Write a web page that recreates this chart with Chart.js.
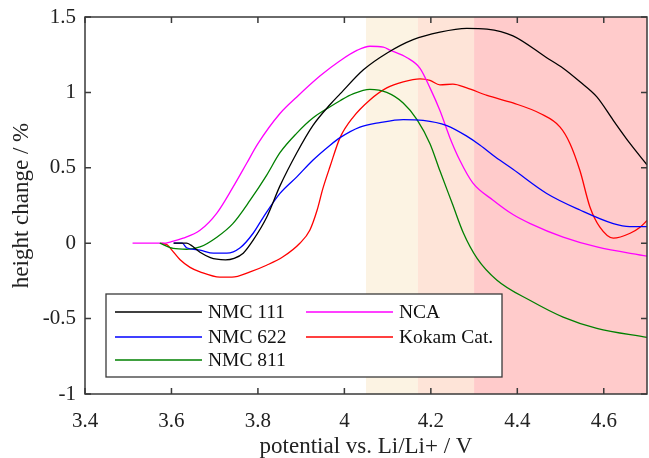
<!DOCTYPE html>
<html><head><meta charset="utf-8">
<script src="https://cdn.jsdelivr.net/npm/chart.js@4.4.0/dist/chart.umd.min.js"></script>
<style>html,body{margin:0;padding:0;background:#fff;}</style>
</head><body>
<canvas id="c" width="649" height="458"></canvas>
<script>
// ---- data ----
const seriesNames = ['NMC 111', 'NMC 622', 'NMC 811', 'NCA', 'Kokam Cat.'];

const nmc111X = [3.605,3.635,3.645,3.666,3.69,3.705,3.725,3.745,3.766,3.789,3.82,3.851,3.89,3.927,3.967,3.99,4.044,4.098,4.159,4.221,4.283,4.33,4.39,4.468,4.506,4.545,4.584,4.622,4.661,4.70];
const nmc111Y = [0,0,-0.013,-0.06,-0.095,-0.106,-0.11,-0.1,-0.066,0.02,0.17,0.38,0.60,0.78,0.92,0.99,1.15,1.26,1.35,1.40,1.425,1.42,1.375,1.23,1.16,1.07,0.97,0.815,0.66,0.52];

const nmc622X = [3.605,3.625,3.635,3.666,3.697,3.728,3.759,3.789,3.812,3.851,3.89,3.927,3.967,3.99,4.036,4.082,4.136,4.182,4.237,4.283,4.314,4.35,4.39,4.468,4.545,4.622,4.66,4.70];
const nmc622Y = [0,0,-0.03,-0.046,-0.066,-0.066,-0.03,0.066,0.17,0.33,0.44,0.55,0.65,0.70,0.77,0.80,0.82,0.815,0.78,0.71,0.65,0.57,0.49,0.33,0.22,0.13,0.11,0.11];

const nmc811X = [3.573,3.604,3.635,3.666,3.705,3.742,3.782,3.82,3.851,3.89,3.927,3.967,3.99,4.02,4.059,4.098,4.136,4.168,4.198,4.221,4.25,4.275,4.307,4.353,4.43,4.506,4.584,4.70];
const nmc811Y = [0,-0.035,-0.04,-0.025,0.04,0.13,0.285,0.45,0.60,0.73,0.83,0.905,0.945,0.99,1.02,1.0,0.93,0.82,0.66,0.48,0.26,0.07,-0.1,-0.245,-0.38,-0.49,-0.565,-0.625];

const ncaX = [3.51,3.58,3.60,3.627,3.666,3.705,3.742,3.774,3.80,3.851,3.89,3.944,3.99,4.03,4.059,4.09,4.106,4.145,4.175,4.198,4.221,4.244,4.267,4.297,4.344,4.39,4.43,4.506,4.584,4.70];
const ncaY = [0,0,0.01,0.033,0.086,0.20,0.37,0.53,0.66,0.86,0.97,1.11,1.21,1.28,1.306,1.30,1.28,1.23,1.16,1.03,0.88,0.70,0.55,0.40,0.285,0.19,0.13,0.04,-0.025,-0.086];

const kokamX = [3.575,3.59,3.601,3.62,3.643,3.666,3.712,3.74,3.782,3.82,3.858,3.897,3.92,3.937,3.95,3.967,3.99,4.02,4.059,4.098,4.136,4.175,4.198,4.221,4.251,4.283,4.33,4.39,4.453,4.499,4.522,4.545,4.568,4.591,4.622,4.661,4.684,4.70];
const kokamY = [0,-0.01,-0.046,-0.11,-0.16,-0.19,-0.225,-0.225,-0.19,-0.146,-0.09,0.0,0.086,0.22,0.36,0.51,0.70,0.835,0.95,1.03,1.07,1.09,1.08,1.05,1.055,1.03,0.98,0.93,0.86,0.77,0.66,0.48,0.24,0.106,0.033,0.066,0.106,0.15];

const xTicks = [3.4,3.6,3.8,4.0,4.2,4.4,4.6];
const yTicks = [-1,-0.5,0,0.5,1,1.5];
const bandEdges = [4.05, 4.17, 4.30, 4.70];

// ---- chart ----
const colors = ['#000000','#0000ff','#008000','#ff00ff','#ff0000'];
const bandColors = ['#fcf3e3','#fee4d8','#ffcbcb'];
const xsAll = [nmc111X, nmc622X, nmc811X, ncaX, kokamX];
const ysAll = [nmc111Y, nmc622Y, nmc811Y, ncaY, kokamY];
const FONT = "'Liberation Serif','Times New Roman',serif";
const AXIS = '#3a3a3a';

const datasets = seriesNames.map((name, i) => ({
  label: name,
  data: xsAll[i].map((x, j) => ({x: x, y: ysAll[i][j]})),
  borderColor: colors[i],
  borderWidth: 1.3,
  pointRadius: 0,
  fill: false,
  cubicInterpolationMode: 'monotone'
}));

const bandsPlugin = {
  id: 'bands',
  beforeDatasetsDraw(chart) {
    const {ctx, chartArea: ca, scales: {x}} = chart;
    ctx.save();
    for (let i = 0; i < bandColors.length; i++) {
      const x0 = x.getPixelForValue(bandEdges[i]);
      const x1 = x.getPixelForValue(bandEdges[i + 1]);
      ctx.fillStyle = bandColors[i];
      ctx.fillRect(x0, ca.top, x1 - x0, ca.bottom - ca.top);
    }
    ctx.restore();
  }
};

const boxPlugin = {
  id: 'box',
  afterDatasetsDraw(chart) {
    const {ctx, chartArea: ca, scales: {x, y}} = chart;
    ctx.save();
    ctx.strokeStyle = AXIS;
    ctx.lineWidth = 1.5;
    ctx.strokeRect(ca.left, ca.top, ca.right - ca.left, ca.bottom - ca.top);
    const tl = 6;
    ctx.beginPath();
    x.ticks.forEach(t => {
      const px = x.getPixelForValue(t.value);
      ctx.moveTo(px, ca.bottom); ctx.lineTo(px, ca.bottom - tl);
      ctx.moveTo(px, ca.top); ctx.lineTo(px, ca.top + tl);
    });
    y.ticks.forEach(t => {
      const py = y.getPixelForValue(t.value);
      ctx.moveTo(ca.left, py); ctx.lineTo(ca.left + tl, py);
      ctx.moveTo(ca.right, py); ctx.lineTo(ca.right - tl, py);
    });
    ctx.stroke();

    // legend
    const L = ca.left + 21, T = ca.bottom - 100, W = 396, H = 83;
    ctx.fillStyle = '#ffffff';
    ctx.fillRect(L, T, W, H);
    ctx.lineWidth = 1.3;
    ctx.strokeStyle = AXIS;
    ctx.strokeRect(L, T, W, H);
    const cols = [[0,1,2],[3,4]];
    const colX = [9, 200];
    const rowY = [18, 43, 66];
    ctx.font = '19.5px ' + FONT;
    ctx.textBaseline = 'middle';
    ctx.textAlign = 'left';
    cols.forEach((col, ci) => {
      col.forEach((di, ri) => {
        const ds = chart.data.datasets[di];
        const yy = T + rowY[ri];
        ctx.strokeStyle = ds.borderColor;
        ctx.lineWidth = 1.3;
        ctx.beginPath();
        ctx.moveTo(L + colX[ci], yy); ctx.lineTo(L + colX[ci] + 87, yy);
        ctx.stroke();
        ctx.fillStyle = '#111';
        ctx.fillText(ds.label, L + colX[ci] + 93, yy + 1);
      });
    });
    ctx.restore();
  }
};

new Chart(document.getElementById('c'), {
  type: 'line',
  data: {datasets},
  options: {
    responsive: false,
    animation: false,
    devicePixelRatio: 1,
    layout: {padding: {top: 17, right: 2, left: 0, bottom: 0}},
    plugins: {legend: {display: false}, tooltip: {enabled: false}},
    scales: {
      x: {
        type: 'linear', min: 3.4, max: 4.7,
        afterBuildTicks: s => { s.ticks = xTicks.map(v => ({value: v})); },
        afterFit: s => { s.height = 64; s.paddingLeft = 0; s.paddingRight = 0; },
        grid: {display: false, drawTicks: false},
        border: {display: false},
        ticks: {
          padding: 15, color: '#222',
          font: {family: FONT, size: 21},
          callback: v => String(Math.round(v * 10) / 10)
        },
        title: {display: true, text: 'potential vs. Li/Li+ / V', color: '#222',
          font: {family: FONT, size: 23, lineHeight: 1}, padding: {top: 0, bottom: 0}}
      },
      y: {
        type: 'linear', min: -1, max: 1.5,
        afterBuildTicks: s => { s.ticks = yTicks.map(v => ({value: v})); },
        afterFit: s => { s.width = 85; s.paddingTop = 0; s.paddingBottom = 0; },
        grid: {display: false, drawTicks: false},
        border: {display: false},
        ticks: {
          padding: 9, color: '#222',
          font: {family: FONT, size: 21},
          callback: v => String(v)
        },
        title: {display: true, text: 'height change / %', color: '#222',
          font: {family: FONT, size: 23, lineHeight: 1}, padding: {top: 10.5, bottom: 0}}
      }
    }
  },
  plugins: [bandsPlugin, boxPlugin]
});
</script>
</body></html>
